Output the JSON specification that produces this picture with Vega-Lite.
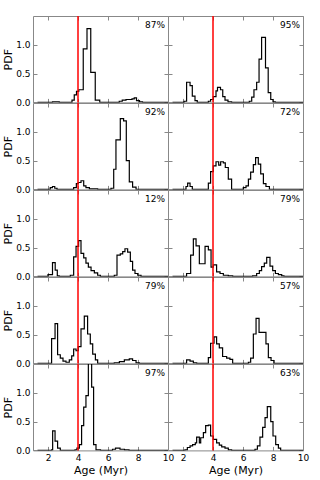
{
"$schema": "https://vega.github.io/schema/vega-lite/v6.json",
"padding": {"left": 2, "top": 14, "right": 0, "bottom": 0},
"datasets": {
"p": [{"r":1,"c":1,"t":"87%"},{"r":1,"c":2,"t":"95%"},{"r":2,"c":1,"t":"92%"},{"r":2,"c":2,"t":"72%"},{"r":3,"c":1,"t":"12%"},{"r":3,"c":2,"t":"79%"},{"r":4,"c":1,"t":"79%"},{"r":4,"c":2,"t":"57%"},{"r":5,"c":1,"t":"97%"},{"r":5,"c":2,"t":"63%"}],
"h": [
{"r":1,"c":1,"x":1.3,"y":0},{"r":1,"c":1,"x":2.3,"y":0.01},{"r":1,"c":1,"x":2.75,"y":0},{"r":1,"c":1,"x":3.6,"y":0.04},{"r":1,"c":1,"x":3.75,"y":0.13},{"r":1,"c":1,"x":3.9,"y":0.19},{"r":1,"c":1,"x":4.05,"y":0.22},{"r":1,"c":1,"x":4.35,"y":0.93},{"r":1,"c":1,"x":4.6,"y":1.28},{"r":1,"c":1,"x":4.85,"y":0.52},{"r":1,"c":1,"x":5.15,"y":0.04},{"r":1,"c":1,"x":5.45,"y":0},{"r":1,"c":1,"x":6.75,"y":0.02},{"r":1,"c":1,"x":6.95,"y":0.04},{"r":1,"c":1,"x":7.2,"y":0.05},{"r":1,"c":1,"x":7.6,"y":0.06},{"r":1,"c":1,"x":7.75,"y":0.08},{"r":1,"c":1,"x":7.9,"y":0.03},{"r":1,"c":1,"x":8.1,"y":0.01},{"r":1,"c":1,"x":8.3,"y":0},{"r":1,"c":1,"x":10,"y":0},
{"r":1,"c":2,"x":1.3,"y":0},{"r":1,"c":2,"x":2.07,"y":0.02},{"r":1,"c":2,"x":2.24,"y":0.35},{"r":1,"c":2,"x":2.47,"y":0.29},{"r":1,"c":2,"x":2.62,"y":0.11},{"r":1,"c":2,"x":2.8,"y":0.03},{"r":1,"c":2,"x":2.95,"y":0},{"r":1,"c":2,"x":3.69,"y":0.02},{"r":1,"c":2,"x":3.84,"y":0.05},{"r":1,"c":2,"x":4.02,"y":0.1},{"r":1,"c":2,"x":4.2,"y":0.2},{"r":1,"c":2,"x":4.3,"y":0.26},{"r":1,"c":2,"x":4.5,"y":0.22},{"r":1,"c":2,"x":4.65,"y":0.1},{"r":1,"c":2,"x":4.8,"y":0.04},{"r":1,"c":2,"x":5.0,"y":0.01},{"r":1,"c":2,"x":5.24,"y":0},{"r":1,"c":2,"x":6.42,"y":0.02},{"r":1,"c":2,"x":6.58,"y":0.09},{"r":1,"c":2,"x":6.73,"y":0.22},{"r":1,"c":2,"x":6.91,"y":0.35},{"r":1,"c":2,"x":7.07,"y":0.75},{"r":1,"c":2,"x":7.24,"y":1.13},{"r":1,"c":2,"x":7.5,"y":0.6},{"r":1,"c":2,"x":7.68,"y":0.17},{"r":1,"c":2,"x":7.85,"y":0.05},{"r":1,"c":2,"x":8.0,"y":0.01},{"r":1,"c":2,"x":8.15,"y":0},{"r":1,"c":2,"x":10,"y":0},
{"r":2,"c":1,"x":1.3,"y":0},{"r":2,"c":1,"x":2.15,"y":0.03},{"r":2,"c":1,"x":2.3,"y":0.05},{"r":2,"c":1,"x":2.45,"y":0.02},{"r":2,"c":1,"x":2.6,"y":0},{"r":2,"c":1,"x":3.71,"y":0.03},{"r":2,"c":1,"x":3.89,"y":0.1},{"r":2,"c":1,"x":4.02,"y":0.12},{"r":2,"c":1,"x":4.2,"y":0.15},{"r":2,"c":1,"x":4.38,"y":0.06},{"r":2,"c":1,"x":4.53,"y":0.03},{"r":2,"c":1,"x":4.76,"y":0.01},{"r":2,"c":1,"x":5.31,"y":0},{"r":2,"c":1,"x":6.2,"y":0.02},{"r":2,"c":1,"x":6.38,"y":0.35},{"r":2,"c":1,"x":6.53,"y":0.86},{"r":2,"c":1,"x":6.82,"y":1.23},{"r":2,"c":1,"x":7.04,"y":1.19},{"r":2,"c":1,"x":7.22,"y":0.5},{"r":2,"c":1,"x":7.42,"y":0.13},{"r":2,"c":1,"x":7.64,"y":0.04},{"r":2,"c":1,"x":7.87,"y":0},{"r":2,"c":1,"x":10,"y":0},
{"r":2,"c":2,"x":1.3,"y":0},{"r":2,"c":2,"x":2.2,"y":0.05},{"r":2,"c":2,"x":2.31,"y":0.11},{"r":2,"c":2,"x":2.47,"y":0.05},{"r":2,"c":2,"x":2.62,"y":0},{"r":2,"c":2,"x":3.69,"y":0.11},{"r":2,"c":2,"x":3.84,"y":0.31},{"r":2,"c":2,"x":4.02,"y":0.41},{"r":2,"c":2,"x":4.2,"y":0.48},{"r":2,"c":2,"x":4.38,"y":0.42},{"r":2,"c":2,"x":4.51,"y":0.48},{"r":2,"c":2,"x":4.69,"y":0.46},{"r":2,"c":2,"x":4.82,"y":0.38},{"r":2,"c":2,"x":5.02,"y":0.18},{"r":2,"c":2,"x":5.24,"y":0},{"r":2,"c":2,"x":6.02,"y":0.03},{"r":2,"c":2,"x":6.2,"y":0.06},{"r":2,"c":2,"x":6.36,"y":0.18},{"r":2,"c":2,"x":6.51,"y":0.3},{"r":2,"c":2,"x":6.69,"y":0.43},{"r":2,"c":2,"x":6.84,"y":0.55},{"r":2,"c":2,"x":7.02,"y":0.44},{"r":2,"c":2,"x":7.18,"y":0.27},{"r":2,"c":2,"x":7.36,"y":0.1},{"r":2,"c":2,"x":7.53,"y":0.05},{"r":2,"c":2,"x":7.76,"y":0},{"r":2,"c":2,"x":10,"y":0},
{"r":3,"c":1,"x":1.3,"y":0},{"r":3,"c":1,"x":2.0,"y":0.03},{"r":3,"c":1,"x":2.3,"y":0.24},{"r":3,"c":1,"x":2.48,"y":0.11},{"r":3,"c":1,"x":2.62,"y":0.01},{"r":3,"c":1,"x":2.75,"y":0},{"r":3,"c":1,"x":3.49,"y":0.02},{"r":3,"c":1,"x":3.71,"y":0.34},{"r":3,"c":1,"x":3.87,"y":0.52},{"r":3,"c":1,"x":4.04,"y":0.62},{"r":3,"c":1,"x":4.2,"y":0.4},{"r":3,"c":1,"x":4.38,"y":0.32},{"r":3,"c":1,"x":4.53,"y":0.23},{"r":3,"c":1,"x":4.69,"y":0.16},{"r":3,"c":1,"x":4.87,"y":0.1},{"r":3,"c":1,"x":5.09,"y":0.06},{"r":3,"c":1,"x":5.31,"y":0.02},{"r":3,"c":1,"x":5.49,"y":0},{"r":3,"c":1,"x":6.42,"y":0.02},{"r":3,"c":1,"x":6.6,"y":0.37},{"r":3,"c":1,"x":6.82,"y":0.39},{"r":3,"c":1,"x":6.98,"y":0.43},{"r":3,"c":1,"x":7.13,"y":0.48},{"r":3,"c":1,"x":7.31,"y":0.42},{"r":3,"c":1,"x":7.49,"y":0.26},{"r":3,"c":1,"x":7.64,"y":0.11},{"r":3,"c":1,"x":7.8,"y":0.05},{"r":3,"c":1,"x":7.98,"y":0.02},{"r":3,"c":1,"x":8.2,"y":0},{"r":3,"c":1,"x":10,"y":0},
{"r":3,"c":2,"x":1.3,"y":0},{"r":3,"c":2,"x":2.24,"y":0.05},{"r":3,"c":2,"x":2.51,"y":0.37},{"r":3,"c":2,"x":2.69,"y":0.65},{"r":3,"c":2,"x":2.87,"y":0.53},{"r":3,"c":2,"x":3.09,"y":0.22},{"r":3,"c":2,"x":3.47,"y":0.52},{"r":3,"c":2,"x":3.69,"y":0.46},{"r":3,"c":2,"x":3.87,"y":0.16},{"r":3,"c":2,"x":4.02,"y":0.2},{"r":3,"c":2,"x":4.24,"y":0.08},{"r":3,"c":2,"x":4.47,"y":0.05},{"r":3,"c":2,"x":4.69,"y":0.02},{"r":3,"c":2,"x":5.02,"y":0.01},{"r":3,"c":2,"x":5.31,"y":0},{"r":3,"c":2,"x":6.64,"y":0.01},{"r":3,"c":2,"x":6.91,"y":0.05},{"r":3,"c":2,"x":7.09,"y":0.1},{"r":3,"c":2,"x":7.24,"y":0.17},{"r":3,"c":2,"x":7.42,"y":0.23},{"r":3,"c":2,"x":7.58,"y":0.33},{"r":3,"c":2,"x":7.8,"y":0.18},{"r":3,"c":2,"x":7.98,"y":0.1},{"r":3,"c":2,"x":8.16,"y":0.05},{"r":3,"c":2,"x":8.36,"y":0.03},{"r":3,"c":2,"x":8.58,"y":0.01},{"r":3,"c":2,"x":8.73,"y":0},{"r":3,"c":2,"x":10,"y":0},
{"r":4,"c":1,"x":1.3,"y":0},{"r":4,"c":1,"x":2.24,"y":0.43},{"r":4,"c":1,"x":2.47,"y":0.69},{"r":4,"c":1,"x":2.64,"y":0.15},{"r":4,"c":1,"x":2.82,"y":0.09},{"r":4,"c":1,"x":3.0,"y":0.04},{"r":4,"c":1,"x":3.2,"y":0.02},{"r":4,"c":1,"x":3.42,"y":0.06},{"r":4,"c":1,"x":3.58,"y":0.13},{"r":4,"c":1,"x":3.71,"y":0.25},{"r":4,"c":1,"x":3.87,"y":0.22},{"r":4,"c":1,"x":4.02,"y":0.29},{"r":4,"c":1,"x":4.2,"y":0.6},{"r":4,"c":1,"x":4.42,"y":0.82},{"r":4,"c":1,"x":4.64,"y":0.51},{"r":4,"c":1,"x":4.82,"y":0.34},{"r":4,"c":1,"x":4.98,"y":0.16},{"r":4,"c":1,"x":5.16,"y":0.06},{"r":4,"c":1,"x":5.31,"y":0},{"r":4,"c":1,"x":6.42,"y":0.01},{"r":4,"c":1,"x":6.76,"y":0.03},{"r":4,"c":1,"x":7.09,"y":0.06},{"r":4,"c":1,"x":7.42,"y":0.08},{"r":4,"c":1,"x":7.64,"y":0.05},{"r":4,"c":1,"x":7.87,"y":0.01},{"r":4,"c":1,"x":8.09,"y":0},{"r":4,"c":1,"x":10,"y":0},
{"r":4,"c":2,"x":1.3,"y":0},{"r":4,"c":2,"x":2.24,"y":0.06},{"r":4,"c":2,"x":2.47,"y":0.04},{"r":4,"c":2,"x":2.69,"y":0.01},{"r":4,"c":2,"x":2.91,"y":0},{"r":4,"c":2,"x":3.69,"y":0.1},{"r":4,"c":2,"x":3.84,"y":0.35},{"r":4,"c":2,"x":4.07,"y":0.46},{"r":4,"c":2,"x":4.24,"y":0.34},{"r":4,"c":2,"x":4.42,"y":0.27},{"r":4,"c":2,"x":4.64,"y":0.12},{"r":4,"c":2,"x":4.91,"y":0.09},{"r":4,"c":2,"x":5.13,"y":0.07},{"r":4,"c":2,"x":5.31,"y":0},{"r":4,"c":2,"x":6.36,"y":0.02},{"r":4,"c":2,"x":6.51,"y":0.09},{"r":4,"c":2,"x":6.69,"y":0.51},{"r":4,"c":2,"x":6.87,"y":0.78},{"r":4,"c":2,"x":7.07,"y":0.54},{"r":4,"c":2,"x":7.53,"y":0.34},{"r":4,"c":2,"x":7.69,"y":0.1},{"r":4,"c":2,"x":7.87,"y":0.05},{"r":4,"c":2,"x":8.07,"y":0},{"r":4,"c":2,"x":10,"y":0},
{"r":5,"c":1,"x":1.3,"y":0},{"r":5,"c":1,"x":2.24,"y":0.01},{"r":5,"c":1,"x":2.31,"y":0.34},{"r":5,"c":1,"x":2.47,"y":0.16},{"r":5,"c":1,"x":2.64,"y":0.04},{"r":5,"c":1,"x":2.82,"y":0},{"r":5,"c":1,"x":3.8,"y":0.01},{"r":5,"c":1,"x":3.93,"y":0.04},{"r":5,"c":1,"x":4.09,"y":0.1},{"r":5,"c":1,"x":4.24,"y":0.43},{"r":5,"c":1,"x":4.38,"y":0.75},{"r":5,"c":1,"x":4.53,"y":0.95},{"r":5,"c":1,"x":4.69,"y":1.7},{"r":5,"c":1,"x":4.91,"y":1.1},{"r":5,"c":1,"x":5.04,"y":0.1},{"r":5,"c":1,"x":5.2,"y":0.01},{"r":5,"c":1,"x":5.5,"y":0},{"r":5,"c":1,"x":6.3,"y":0.02},{"r":5,"c":1,"x":6.5,"y":0.04},{"r":5,"c":1,"x":6.8,"y":0.02},{"r":5,"c":1,"x":7.1,"y":0.01},{"r":5,"c":1,"x":7.4,"y":0},{"r":5,"c":1,"x":10,"y":0},
{"r":5,"c":2,"x":1.3,"y":0},{"r":5,"c":2,"x":2.13,"y":0.01},{"r":5,"c":2,"x":2.29,"y":0.05},{"r":5,"c":2,"x":2.47,"y":0.08},{"r":5,"c":2,"x":2.64,"y":0.1},{"r":5,"c":2,"x":2.82,"y":0.13},{"r":5,"c":2,"x":2.91,"y":0.23},{"r":5,"c":2,"x":3.09,"y":0.13},{"r":5,"c":2,"x":3.18,"y":0.22},{"r":5,"c":2,"x":3.36,"y":0.31},{"r":5,"c":2,"x":3.51,"y":0.43},{"r":5,"c":2,"x":3.69,"y":0.44},{"r":5,"c":2,"x":3.84,"y":0.25},{"r":5,"c":2,"x":4.02,"y":0.19},{"r":5,"c":2,"x":4.24,"y":0.13},{"r":5,"c":2,"x":4.42,"y":0.09},{"r":5,"c":2,"x":4.58,"y":0.06},{"r":5,"c":2,"x":4.8,"y":0.04},{"r":5,"c":2,"x":5.02,"y":0.01},{"r":5,"c":2,"x":5.24,"y":0},{"r":5,"c":2,"x":6.8,"y":0.02},{"r":5,"c":2,"x":6.96,"y":0.08},{"r":5,"c":2,"x":7.13,"y":0.23},{"r":5,"c":2,"x":7.31,"y":0.4},{"r":5,"c":2,"x":7.47,"y":0.57},{"r":5,"c":2,"x":7.62,"y":0.76},{"r":5,"c":2,"x":7.85,"y":0.5},{"r":5,"c":2,"x":8.0,"y":0.25},{"r":5,"c":2,"x":8.18,"y":0.1},{"r":5,"c":2,"x":8.36,"y":0.04},{"r":5,"c":2,"x":8.51,"y":0},{"r":5,"c":2,"x":10,"y":0}
]},
"columns": 2,
"spacing": 0,
"bounds": "flush",
"concat": [
{"width":135,"height":86.4,"resolve":{"axis":{"x":"independent","y":"independent"}},"layer":[
 {"data":{"name":"h"},"transform":[{"filter":"datum.r==1&&datum.c==1"}],"mark":{"type":"line","interpolate":"step-after","color":"black","strokeWidth":1.2,"clip":true},
  "encoding":{"x":{"field":"x","type":"quantitative","scale":{"domain":[1,10],"nice":false,"zero":false},"axis":{"values":[2,4,6,8,10],"labels":false,"title":null}},
   "y":{"field":"y","type":"quantitative","scale":{"domain":[0,1.5],"nice":false},"axis":{"values":[0,0.5,1],"format":".1f","title":"PDF","labelOverlap":false,"labelFlush":false}}}},
 {"data":{"name":"h"},"transform":[{"filter":"datum.r==1&&datum.c==1"}],"mark":{"type":"point","opacity":0,"clip":true},
  "encoding":{"x":{"field":"x","type":"quantitative","axis":{"orient":"top","values":[2,4,6,8,10],"labels":false,"title":null}},"y":{"field":"y","type":"quantitative","axis":{"orient":"right","values":[0,0.5,1],"labels":false,"title":null}}}},
 {"data":{"name":"p"},"transform":[{"filter":"datum.r==1&&datum.c==1"}],"mark":{"type":"rule","color":"#ff0000","strokeWidth":1.5},"encoding":{"x":{"datum":4,"type":"quantitative","axis":null}}},
 {"data":{"name":"p"},"transform":[{"filter":"datum.r==1&&datum.c==1"}],"mark":{"type":"text","align":"right","baseline":"middle","fontSize":9,"color":"black"},"encoding":{"x":{"datum":9.8,"type":"quantitative","axis":null},"y":{"datum":1.34,"type":"quantitative","axis":null},"text":{"field":"t"}}}
]},
{"width":135,"height":86.4,"resolve":{"axis":{"x":"independent","y":"independent"}},"layer":[
 {"data":{"name":"h"},"transform":[{"filter":"datum.r==1&&datum.c==2"}],"mark":{"type":"line","interpolate":"step-after","color":"black","strokeWidth":1.2,"clip":true},
  "encoding":{"x":{"field":"x","type":"quantitative","scale":{"domain":[1,10],"nice":false,"zero":false},"axis":{"values":[2,4,6,8,10],"labels":false,"title":null}},
   "y":{"field":"y","type":"quantitative","scale":{"domain":[0,1.5],"nice":false},"axis":{"values":[0,0.5,1],"labels":false,"title":null}}}},
 {"data":{"name":"h"},"transform":[{"filter":"datum.r==1&&datum.c==2"}],"mark":{"type":"point","opacity":0,"clip":true},
  "encoding":{"x":{"field":"x","type":"quantitative","axis":{"orient":"top","values":[2,4,6,8,10],"labels":false,"title":null}},"y":{"field":"y","type":"quantitative","axis":{"orient":"right","values":[0,0.5,1],"labels":false,"title":null}}}},
 {"data":{"name":"p"},"transform":[{"filter":"datum.r==1&&datum.c==2"}],"mark":{"type":"rule","color":"#ff0000","strokeWidth":1.5},"encoding":{"x":{"datum":4,"type":"quantitative","axis":null}}},
 {"data":{"name":"p"},"transform":[{"filter":"datum.r==1&&datum.c==2"}],"mark":{"type":"text","align":"right","baseline":"middle","fontSize":9,"color":"black"},"encoding":{"x":{"datum":9.8,"type":"quantitative","axis":null},"y":{"datum":1.34,"type":"quantitative","axis":null},"text":{"field":"t"}}}
]},
{"width":135,"height":86.4,"resolve":{"axis":{"x":"independent","y":"independent"}},"layer":[
 {"data":{"name":"h"},"transform":[{"filter":"datum.r==2&&datum.c==1"}],"mark":{"type":"line","interpolate":"step-after","color":"black","strokeWidth":1.2,"clip":true},
  "encoding":{"x":{"field":"x","type":"quantitative","scale":{"domain":[1,10],"nice":false,"zero":false},"axis":{"values":[2,4,6,8,10],"labels":false,"title":null}},
   "y":{"field":"y","type":"quantitative","scale":{"domain":[0,1.5],"nice":false},"axis":{"values":[0,0.5,1],"format":".1f","title":"PDF","labelOverlap":false,"labelFlush":false}}}},
 {"data":{"name":"h"},"transform":[{"filter":"datum.r==2&&datum.c==1"}],"mark":{"type":"point","opacity":0,"clip":true},
  "encoding":{"x":{"field":"x","type":"quantitative","axis":{"orient":"top","values":[2,4,6,8,10],"labels":false,"title":null}},"y":{"field":"y","type":"quantitative","axis":{"orient":"right","values":[0,0.5,1],"labels":false,"title":null}}}},
 {"data":{"name":"p"},"transform":[{"filter":"datum.r==2&&datum.c==1"}],"mark":{"type":"rule","color":"#ff0000","strokeWidth":1.5},"encoding":{"x":{"datum":4,"type":"quantitative","axis":null}}},
 {"data":{"name":"p"},"transform":[{"filter":"datum.r==2&&datum.c==1"}],"mark":{"type":"text","align":"right","baseline":"middle","fontSize":9,"color":"black"},"encoding":{"x":{"datum":9.8,"type":"quantitative","axis":null},"y":{"datum":1.34,"type":"quantitative","axis":null},"text":{"field":"t"}}}
]},
{"width":135,"height":86.4,"resolve":{"axis":{"x":"independent","y":"independent"}},"layer":[
 {"data":{"name":"h"},"transform":[{"filter":"datum.r==2&&datum.c==2"}],"mark":{"type":"line","interpolate":"step-after","color":"black","strokeWidth":1.2,"clip":true},
  "encoding":{"x":{"field":"x","type":"quantitative","scale":{"domain":[1,10],"nice":false,"zero":false},"axis":{"values":[2,4,6,8,10],"labels":false,"title":null}},
   "y":{"field":"y","type":"quantitative","scale":{"domain":[0,1.5],"nice":false},"axis":{"values":[0,0.5,1],"labels":false,"title":null}}}},
 {"data":{"name":"h"},"transform":[{"filter":"datum.r==2&&datum.c==2"}],"mark":{"type":"point","opacity":0,"clip":true},
  "encoding":{"x":{"field":"x","type":"quantitative","axis":{"orient":"top","values":[2,4,6,8,10],"labels":false,"title":null}},"y":{"field":"y","type":"quantitative","axis":{"orient":"right","values":[0,0.5,1],"labels":false,"title":null}}}},
 {"data":{"name":"p"},"transform":[{"filter":"datum.r==2&&datum.c==2"}],"mark":{"type":"rule","color":"#ff0000","strokeWidth":1.5},"encoding":{"x":{"datum":4,"type":"quantitative","axis":null}}},
 {"data":{"name":"p"},"transform":[{"filter":"datum.r==2&&datum.c==2"}],"mark":{"type":"text","align":"right","baseline":"middle","fontSize":9,"color":"black"},"encoding":{"x":{"datum":9.8,"type":"quantitative","axis":null},"y":{"datum":1.34,"type":"quantitative","axis":null},"text":{"field":"t"}}}
]},
{"width":135,"height":86.4,"resolve":{"axis":{"x":"independent","y":"independent"}},"layer":[
 {"data":{"name":"h"},"transform":[{"filter":"datum.r==3&&datum.c==1"}],"mark":{"type":"line","interpolate":"step-after","color":"black","strokeWidth":1.2,"clip":true},
  "encoding":{"x":{"field":"x","type":"quantitative","scale":{"domain":[1,10],"nice":false,"zero":false},"axis":{"values":[2,4,6,8,10],"labels":false,"title":null}},
   "y":{"field":"y","type":"quantitative","scale":{"domain":[0,1.5],"nice":false},"axis":{"values":[0,0.5,1],"format":".1f","title":"PDF","labelOverlap":false,"labelFlush":false}}}},
 {"data":{"name":"h"},"transform":[{"filter":"datum.r==3&&datum.c==1"}],"mark":{"type":"point","opacity":0,"clip":true},
  "encoding":{"x":{"field":"x","type":"quantitative","axis":{"orient":"top","values":[2,4,6,8,10],"labels":false,"title":null}},"y":{"field":"y","type":"quantitative","axis":{"orient":"right","values":[0,0.5,1],"labels":false,"title":null}}}},
 {"data":{"name":"p"},"transform":[{"filter":"datum.r==3&&datum.c==1"}],"mark":{"type":"rule","color":"#ff0000","strokeWidth":1.5},"encoding":{"x":{"datum":4,"type":"quantitative","axis":null}}},
 {"data":{"name":"p"},"transform":[{"filter":"datum.r==3&&datum.c==1"}],"mark":{"type":"text","align":"right","baseline":"middle","fontSize":9,"color":"black"},"encoding":{"x":{"datum":9.8,"type":"quantitative","axis":null},"y":{"datum":1.34,"type":"quantitative","axis":null},"text":{"field":"t"}}}
]},
{"width":135,"height":86.4,"resolve":{"axis":{"x":"independent","y":"independent"}},"layer":[
 {"data":{"name":"h"},"transform":[{"filter":"datum.r==3&&datum.c==2"}],"mark":{"type":"line","interpolate":"step-after","color":"black","strokeWidth":1.2,"clip":true},
  "encoding":{"x":{"field":"x","type":"quantitative","scale":{"domain":[1,10],"nice":false,"zero":false},"axis":{"values":[2,4,6,8,10],"labels":false,"title":null}},
   "y":{"field":"y","type":"quantitative","scale":{"domain":[0,1.5],"nice":false},"axis":{"values":[0,0.5,1],"labels":false,"title":null}}}},
 {"data":{"name":"h"},"transform":[{"filter":"datum.r==3&&datum.c==2"}],"mark":{"type":"point","opacity":0,"clip":true},
  "encoding":{"x":{"field":"x","type":"quantitative","axis":{"orient":"top","values":[2,4,6,8,10],"labels":false,"title":null}},"y":{"field":"y","type":"quantitative","axis":{"orient":"right","values":[0,0.5,1],"labels":false,"title":null}}}},
 {"data":{"name":"p"},"transform":[{"filter":"datum.r==3&&datum.c==2"}],"mark":{"type":"rule","color":"#ff0000","strokeWidth":1.5},"encoding":{"x":{"datum":4,"type":"quantitative","axis":null}}},
 {"data":{"name":"p"},"transform":[{"filter":"datum.r==3&&datum.c==2"}],"mark":{"type":"text","align":"right","baseline":"middle","fontSize":9,"color":"black"},"encoding":{"x":{"datum":9.8,"type":"quantitative","axis":null},"y":{"datum":1.34,"type":"quantitative","axis":null},"text":{"field":"t"}}}
]},
{"width":135,"height":86.4,"resolve":{"axis":{"x":"independent","y":"independent"}},"layer":[
 {"data":{"name":"h"},"transform":[{"filter":"datum.r==4&&datum.c==1"}],"mark":{"type":"line","interpolate":"step-after","color":"black","strokeWidth":1.2,"clip":true},
  "encoding":{"x":{"field":"x","type":"quantitative","scale":{"domain":[1,10],"nice":false,"zero":false},"axis":{"values":[2,4,6,8,10],"labels":false,"title":null}},
   "y":{"field":"y","type":"quantitative","scale":{"domain":[0,1.5],"nice":false},"axis":{"values":[0,0.5,1],"format":".1f","title":"PDF","labelOverlap":false,"labelFlush":false}}}},
 {"data":{"name":"h"},"transform":[{"filter":"datum.r==4&&datum.c==1"}],"mark":{"type":"point","opacity":0,"clip":true},
  "encoding":{"x":{"field":"x","type":"quantitative","axis":{"orient":"top","values":[2,4,6,8,10],"labels":false,"title":null}},"y":{"field":"y","type":"quantitative","axis":{"orient":"right","values":[0,0.5,1],"labels":false,"title":null}}}},
 {"data":{"name":"p"},"transform":[{"filter":"datum.r==4&&datum.c==1"}],"mark":{"type":"rule","color":"#ff0000","strokeWidth":1.5},"encoding":{"x":{"datum":4,"type":"quantitative","axis":null}}},
 {"data":{"name":"p"},"transform":[{"filter":"datum.r==4&&datum.c==1"}],"mark":{"type":"text","align":"right","baseline":"middle","fontSize":9,"color":"black"},"encoding":{"x":{"datum":9.8,"type":"quantitative","axis":null},"y":{"datum":1.34,"type":"quantitative","axis":null},"text":{"field":"t"}}}
]},
{"width":135,"height":86.4,"resolve":{"axis":{"x":"independent","y":"independent"}},"layer":[
 {"data":{"name":"h"},"transform":[{"filter":"datum.r==4&&datum.c==2"}],"mark":{"type":"line","interpolate":"step-after","color":"black","strokeWidth":1.2,"clip":true},
  "encoding":{"x":{"field":"x","type":"quantitative","scale":{"domain":[1,10],"nice":false,"zero":false},"axis":{"values":[2,4,6,8,10],"labels":false,"title":null}},
   "y":{"field":"y","type":"quantitative","scale":{"domain":[0,1.5],"nice":false},"axis":{"values":[0,0.5,1],"labels":false,"title":null}}}},
 {"data":{"name":"h"},"transform":[{"filter":"datum.r==4&&datum.c==2"}],"mark":{"type":"point","opacity":0,"clip":true},
  "encoding":{"x":{"field":"x","type":"quantitative","axis":{"orient":"top","values":[2,4,6,8,10],"labels":false,"title":null}},"y":{"field":"y","type":"quantitative","axis":{"orient":"right","values":[0,0.5,1],"labels":false,"title":null}}}},
 {"data":{"name":"p"},"transform":[{"filter":"datum.r==4&&datum.c==2"}],"mark":{"type":"rule","color":"#ff0000","strokeWidth":1.5},"encoding":{"x":{"datum":4,"type":"quantitative","axis":null}}},
 {"data":{"name":"p"},"transform":[{"filter":"datum.r==4&&datum.c==2"}],"mark":{"type":"text","align":"right","baseline":"middle","fontSize":9,"color":"black"},"encoding":{"x":{"datum":9.8,"type":"quantitative","axis":null},"y":{"datum":1.34,"type":"quantitative","axis":null},"text":{"field":"t"}}}
]},
{"width":135,"height":86.4,"resolve":{"axis":{"x":"independent","y":"independent"}},"layer":[
 {"data":{"name":"h"},"transform":[{"filter":"datum.r==5&&datum.c==1"}],"mark":{"type":"line","interpolate":"step-after","color":"black","strokeWidth":1.2,"clip":true},
  "encoding":{"x":{"field":"x","type":"quantitative","scale":{"domain":[1,10],"nice":false,"zero":false},"axis":{"values":[2,4,6,8,10],"title":"Age (Myr)","labelOverlap":false,"labelFlush":false}},
   "y":{"field":"y","type":"quantitative","scale":{"domain":[0,1.5],"nice":false},"axis":{"values":[0,0.5,1],"format":".1f","title":"PDF","labelOverlap":false,"labelFlush":false}}}},
 {"data":{"name":"h"},"transform":[{"filter":"datum.r==5&&datum.c==1"}],"mark":{"type":"point","opacity":0,"clip":true},
  "encoding":{"x":{"field":"x","type":"quantitative","axis":{"orient":"top","values":[2,4,6,8,10],"labels":false,"title":null}},"y":{"field":"y","type":"quantitative","axis":{"orient":"right","values":[0,0.5,1],"labels":false,"title":null}}}},
 {"data":{"name":"p"},"transform":[{"filter":"datum.r==5&&datum.c==1"}],"mark":{"type":"rule","color":"#ff0000","strokeWidth":1.5},"encoding":{"x":{"datum":4,"type":"quantitative","axis":null}}},
 {"data":{"name":"p"},"transform":[{"filter":"datum.r==5&&datum.c==1"}],"mark":{"type":"text","align":"right","baseline":"middle","fontSize":9,"color":"black"},"encoding":{"x":{"datum":9.8,"type":"quantitative","axis":null},"y":{"datum":1.34,"type":"quantitative","axis":null},"text":{"field":"t"}}}
]},
{"width":135,"height":86.4,"resolve":{"axis":{"x":"independent","y":"independent"}},"layer":[
 {"data":{"name":"h"},"transform":[{"filter":"datum.r==5&&datum.c==2"}],"mark":{"type":"line","interpolate":"step-after","color":"black","strokeWidth":1.2,"clip":true},
  "encoding":{"x":{"field":"x","type":"quantitative","scale":{"domain":[1,10],"nice":false,"zero":false},"axis":{"values":[2,4,6,8,10],"title":"Age (Myr)","labelOverlap":false,"labelFlush":false}},
   "y":{"field":"y","type":"quantitative","scale":{"domain":[0,1.5],"nice":false},"axis":{"values":[0,0.5,1],"labels":false,"title":null}}}},
 {"data":{"name":"h"},"transform":[{"filter":"datum.r==5&&datum.c==2"}],"mark":{"type":"point","opacity":0,"clip":true},
  "encoding":{"x":{"field":"x","type":"quantitative","axis":{"orient":"top","values":[2,4,6,8,10],"labels":false,"title":null}},"y":{"field":"y","type":"quantitative","axis":{"orient":"right","values":[0,0.5,1],"labels":false,"title":null}}}},
 {"data":{"name":"p"},"transform":[{"filter":"datum.r==5&&datum.c==2"}],"mark":{"type":"rule","color":"#ff0000","strokeWidth":1.5},"encoding":{"x":{"datum":4,"type":"quantitative","axis":null}}},
 {"data":{"name":"p"},"transform":[{"filter":"datum.r==5&&datum.c==2"}],"mark":{"type":"text","align":"right","baseline":"middle","fontSize":9,"color":"black"},"encoding":{"x":{"datum":9.8,"type":"quantitative","axis":null},"y":{"datum":1.34,"type":"quantitative","axis":null},"text":{"field":"t"}}}
]}
],
"config": {
  "font": "DejaVu Sans",
  "view": {"stroke": "#888888", "strokeWidth": 1},
  "axis": {"domain": false, "grid": false, "tickColor": "#888888", "tickSize": -4, "labelPadding": 7, "labelFontSize": 9, "labelColor": "black", "titleFontSize": 11, "titleFontWeight": "normal", "titleColor": "black", "titlePadding": 2}
}
}
